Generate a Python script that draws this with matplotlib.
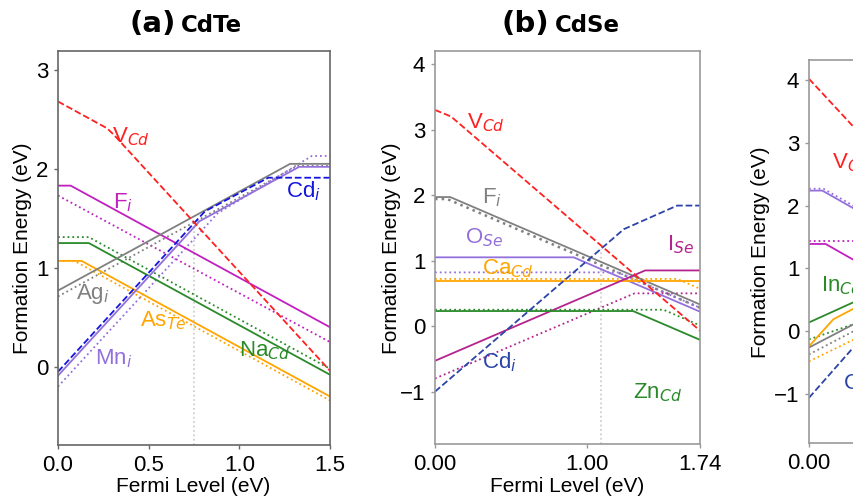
import matplotlib
matplotlib.use('Agg')
import matplotlib.pyplot as plt
import numpy as np

plt.rcParams['font.family'] = ['Liberation Sans', 'DejaVu Sans']
plt.rcParams['mathtext.fontset'] = 'dejavusans'

# ---- (a) CdTe: break points of each defect line (Fermi level, energy) ----
te_vcd = ([0.0, 0.27, 0.31, 1.5], [2.68, 2.41, 2.34, -0.04])
te_fi = ([0.0, 0.07, 1.5], [1.83, 1.83, 0.40])
te_fi_dot = ([0.0, 1.5], [1.73, 0.25])
te_nacd = ([0.0, 0.17, 1.5], [1.25, 1.25, -0.08])
te_nacd_dot = ([0.0, 0.17, 1.5], [1.31, 1.31, -0.02])
te_aste = ([0.0, 0.13, 1.5], [1.07, 1.07, -0.30])
te_aste_dot = ([0.0, 0.09, 1.5], [1.07, 1.07, -0.34])
te_agi = ([0.0, 1.28, 1.5], [0.77, 2.05, 2.05])
te_agi_dot = ([0.0, 1.32, 1.5], [0.71, 2.03, 2.03])
te_cdi = ([0.0, 0.81, 1.16, 1.5], [-0.05, 1.57, 1.91, 1.91])
te_mni = ([0.0, 0.78, 1.33, 1.5], [-0.09, 1.47, 2.02, 2.02])
te_mni_dot = ([0.0, 0.88, 1.40, 1.5], [-0.20, 1.55, 2.13, 2.13])
te_ef = 0.75

# ---- (b) CdSe ----
se_vcd = ([0.0, 0.105, 1.74], [3.30, 3.20, -0.07])
se_fi = ([0.0, 0.10, 1.74], [1.97, 1.97, 0.33])
se_fi_dot = ([0.0, 0.08, 1.74], [1.94, 1.94, 0.28])
se_ose = ([0.0, 0.91, 1.74], [1.05, 1.05, 0.22])
se_ose_dot = ([0.0, 1.20, 1.74], [0.82, 0.82, 0.28])
se_cacd = ([0.0, 1.74], [0.69, 0.69])
se_cacd_dot = ([0.0, 1.59, 1.74], [0.72, 0.72, 0.57])
se_ise = ([0.0, 1.38, 1.74], [-0.53, 0.85, 0.85])
se_ise_dot = ([0.0, 1.31, 1.74], [-0.80, 0.50, 0.50])
se_cdi = ([0.0, 1.24, 1.59, 1.74], [-1.00, 1.48, 1.84, 1.84])
se_zncd = ([0.0, 1.30, 1.74], [0.23, 0.23, -0.21])
se_zncd_dot = ([0.0, 1.50, 1.74], [0.25, 0.25, 0.01])
se_ef = 1.09

# ---- (c) third compound, only the low Fermi level end ----
s_vcd = ([0.0, 0.5], [4.02, 3.07])
s_purple = ([0.0, 0.12, 0.5], [2.24, 2.24, 1.86])
s_purple_dot = ([0.0, 0.13, 0.5], [2.27, 2.27, 1.90])
s_mag = ([0.0, 0.15, 0.5], [1.39, 1.39, 1.04])
s_mag_dot = ([0.0, 0.5], [1.44, 1.44])
s_incd = ([0.0, 0.5], [0.14, 0.54])
s_incd_dot = ([0.0, 0.5], [-0.13, 0.17])
s_orange = ([0.0, 0.22, 0.5], [-0.24, 0.19, 0.45])
s_orange_dot = ([0.0, 0.5], [-0.48, -0.05])
s_gray = ([0.0, 0.5], [-0.26, 0.20])
s_gray_dot = ([0.0, 0.5], [-0.37, 0.09])
s_cdi = ([0.0, 0.5], [-1.06, -0.06])

RED = '#ff2020'
MAG = '#c020c0'
GREEN = '#2a8a2a'
ORANGE = '#ffa500'
GRAY = '#808080'
BLUE = '#1515e0'
NAVY = '#2b44a8'
PURPLE = '#9370db'
VIOLET = '#b4238e'


def line(ax, pts, color, ls='-', lw=1.3):
    ax.plot(pts[0], pts[1], color=color, linestyle=ls, linewidth=lw)


def frame(ax, xlim, ylim, xticks, xlabels, yticks, edge):
    ax.set_xlim(*xlim)
    ax.set_ylim(*ylim)
    ax.set_xticks(xticks)
    ax.set_xticklabels(xlabels)
    ax.set_yticks(yticks)
    for s in ax.spines.values():
        s.set_color(edge)
        s.set_linewidth(1.2)
    ax.tick_params(labelsize=16, length=3, width=1, color=edge, pad=4)


fig = plt.figure(figsize=(8.54, 5.03), dpi=100)

# (a) CdTe
ax1 = fig.add_axes([0.0679, 0.1153, 0.3185, 0.7833])
frame(ax1, (0, 1.5), (-0.79, 3.19), [0, 0.5, 1.0, 1.5],
      ['0.0', '0.5', '1.0', '1.5'], [0, 1, 2, 3], '#666666')
ax1.plot([te_ef, te_ef], [-0.79, np.interp(te_ef, *te_cdi)],
         color='#c8c8c8', linestyle=':', linewidth=1.2)
line(ax1, te_fi_dot, MAG, ':')
line(ax1, te_nacd_dot, GREEN, ':')
line(ax1, te_aste_dot, ORANGE, ':')
line(ax1, te_agi_dot, GRAY, ':')
line(ax1, te_mni_dot, PURPLE, ':')
line(ax1, te_fi, MAG)
line(ax1, te_nacd, GREEN)
line(ax1, te_aste, ORANGE)
line(ax1, te_agi, GRAY)
line(ax1, te_mni, PURPLE)
line(ax1, te_cdi, BLUE, '--')
line(ax1, te_vcd, RED, '--')

lab = dict(fontsize=16, ha='left', va='baseline')
ax1.text(0.30, 2.27, 'V$_{Cd}$', color=RED, **lab)
ax1.text(0.305, 1.60, 'F$_i$', color=MAG, **lab)
ax1.text(1.256, 1.71, 'Cd$_i$', color=BLUE, **lab)
ax1.text(0.10, 0.68, 'Ag$_i$', color=GRAY, **lab)
ax1.text(0.45, 0.41, 'As$_{Te}$', color=ORANGE, **lab)
ax1.text(1.00, 0.11, 'Na$_{Cd}$', color=GREEN, **lab)
ax1.text(0.205, 0.02, 'Mn$_i$', color=PURPLE, **lab)

# (b) CdSe
ax2 = fig.add_axes([0.5094, 0.1173, 0.3103, 0.7813])
frame(ax2, (0, 1.74), (-1.8, 4.2), [0, 1.0, 1.74],
      ['0.00', '1.00', '1.74'], [-1, 0, 1, 2, 3, 4], '#999999')
ax2.plot([se_ef, se_ef], [-1.8, np.interp(se_ef, *se_cdi)],
         color='#c8c8c8', linestyle=':', linewidth=1.2)
line(ax2, se_fi_dot, GRAY, ':', 1.8)
line(ax2, se_ose_dot, PURPLE, ':')
line(ax2, se_cacd_dot, ORANGE, ':')
line(ax2, se_ise_dot, VIOLET, ':')
line(ax2, se_zncd_dot, GREEN, ':')
line(ax2, se_fi, GRAY)
line(ax2, se_ose, PURPLE)
line(ax2, se_cacd, ORANGE)
line(ax2, se_ise, VIOLET)
line(ax2, se_zncd, GREEN)
line(ax2, se_cdi, NAVY, '--')
line(ax2, se_vcd, RED, '--')

ax2.text(0.21, 3.02, 'V$_{Cd}$', color=RED, **lab)
ax2.text(0.31, 1.88, 'F$_i$', color=GRAY, **lab)
ax2.text(0.20, 1.27, 'O$_{Se}$', color=PURPLE, **lab)
ax2.text(1.52, 1.16, 'I$_{Se}$', color=VIOLET, **lab)
ax2.text(0.31, 0.79, 'Ca$_{Cd}$', color=ORANGE, **lab)
ax2.text(0.31, -0.64, 'Cd$_i$', color=NAVY, **lab)
ax2.text(1.30, -1.11, 'Zn$_{Cd}$', color=GREEN, **lab)

# (c) runs past the right edge of the figure
ax3 = fig.add_axes([0.9473, 0.1193, 0.311, 0.7614])
frame(ax3, (0, 2.4), (-1.78, 4.32), [0], ['0.00'],
      [-1, 0, 1, 2, 3, 4], '#999999')
line(ax3, s_purple_dot, PURPLE, ':')
line(ax3, s_mag_dot, MAG, ':')
line(ax3, s_incd_dot, GREEN, ':')
line(ax3, s_orange_dot, ORANGE, ':')
line(ax3, s_gray_dot, GRAY, ':')
line(ax3, s_purple, PURPLE)
line(ax3, s_mag, MAG)
line(ax3, s_incd, GREEN)
line(ax3, s_orange, ORANGE)
line(ax3, s_gray, GRAY)
line(ax3, s_cdi, NAVY, '--')
line(ax3, s_vcd, RED, '--')
ax3.text(0.21, 2.59, 'V$_{Cd}$', color=RED, **lab)
ax3.text(0.11, 0.64, 'In$_{Cd}$', color=GREEN, **lab)
ax3.text(0.31, -0.93, 'Cd$_i$', color=NAVY, **lab)

# axis titles
yl = 'Formation Energy (eV)'
fig.text(23 / 854, 1 - 248 / 503, yl, rotation=90, ha='center', va='center', fontsize=15)
fig.text(392 / 854, 1 - 248 / 503, yl, rotation=90, ha='center', va='center', fontsize=15)
fig.text(761 / 854, 1 - 252 / 503, yl, rotation=90, ha='center', va='center', fontsize=15)
fig.text(193 / 854, 1 - 487 / 503, 'Fermi Level (eV)', ha='center', va='center', fontsize=15)
fig.text(567 / 854, 1 - 487 / 503, 'Fermi Level (eV)', ha='center', va='center', fontsize=15)

# panel titles
tb = 1 - 32 / 503
fig.text(176 / 854, tb, '(a)', ha='right', va='baseline', fontsize=21,
         fontweight='bold', family='DejaVu Sans')
fig.text(181 / 854, tb, 'CdTe', ha='left', va='baseline', fontsize=16.5,
         fontweight='bold', family='DejaVu Sans')
fig.text(549 / 854, tb, '(b)', ha='right', va='baseline', fontsize=21,
         fontweight='bold', family='DejaVu Sans')
fig.text(555 / 854, tb, 'CdSe', ha='left', va='baseline', fontsize=16.5,
         fontweight='bold', family='DejaVu Sans')

fig.savefig('out.png', dpi=100)
